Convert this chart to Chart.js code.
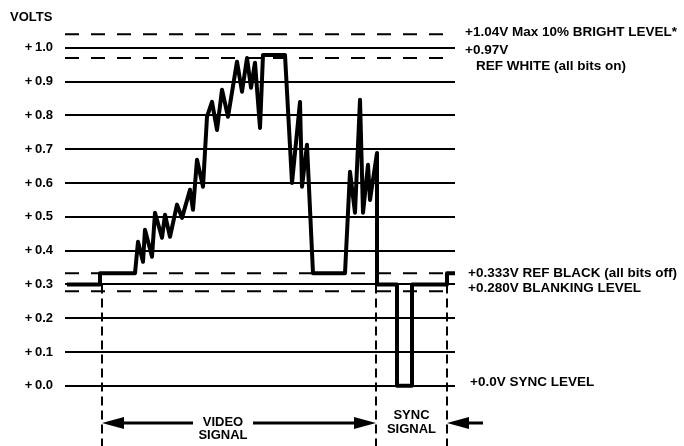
<!DOCTYPE html>
<html>
<head>
<meta charset="utf-8">
<script src="https://cdn.jsdelivr.net/npm/chart.js@4.4.1/dist/chart.umd.min.js"></script>
<style>
  html, body { margin: 0; padding: 0; background: #fff; }
  #wrap { width: 684px; height: 446px; }
</style>
</head>
<body>
<div id="wrap"><canvas id="c" width="684" height="446"></canvas></div>
<script>
// Composite video line: time (arbitrary µs scale) and voltage.
const timeUs = [
  0.2, 3.5, 3.5, 7.0, 7.3, 7.8, 8.0, 8.7, 9.0, 9.7, 10.0, 10.5, 11.2, 11.7,
  12.5, 12.8, 13.2, 13.8, 14.2, 14.7, 15.2, 15.7, 16.3, 17.2, 17.7, 18.2,
  18.6, 19.0, 19.5, 19.8, 22.0, 22.7, 23.5, 23.7, 24.2, 24.8, 28.0, 28.5,
  29.0, 29.5, 29.8, 30.3, 30.5, 31.2, 31.2, 33.2, 33.2, 34.7, 34.7, 38.2,
  38.2, 39.0
];
const volts = [
  0.30, 0.30, 0.333, 0.333, 0.426, 0.367, 0.462, 0.382, 0.512, 0.438, 0.506, 0.441, 0.536, 0.497,
  0.580, 0.521, 0.669, 0.589, 0.796, 0.840, 0.757, 0.876, 0.796, 0.959, 0.870, 0.970,
  0.882, 0.956, 0.763, 0.979, 0.979, 0.600, 0.840, 0.589, 0.713, 0.333, 0.333, 0.633,
  0.512, 0.846, 0.512, 0.654, 0.550, 0.689, 0.300, 0.300, 0.000, 0.000, 0.300, 0.300,
  0.333, 0.333
];

// Reference levels (dashed)
const levelValues = [1.04, 0.97, 0.333, 0.280];
const levelText = [
  ['+1.04V Max 10% BRIGHT LEVEL*'],
  ['+0.97V', 'REF WHITE (all bits on)'],
  ['+0.333V REF BLACK (all bits off)'],
  ['+0.280V BLANKING LEVEL']
];
const syncLevel = 0.0;
const syncText = '+0.0V SYNC LEVEL';

// Interval boundaries (video start, video end / sync start, sync end)
const boundaryTimes = [3.7, 31.1, 38.2];

// Y axis ticks
const yTicks = [0.0, 0.1, 0.2, 0.3, 0.4, 0.5, 0.6, 0.7, 0.8, 0.9, 1.0];

const X_MIN = 0, X_MAX = 39, Y_MIN = -0.178, Y_MAX = 1.1;
const FONT = '"Liberation Sans", Arial, Helvetica, sans-serif';

const datasets = [];
datasets.push({
  label: 'signal',
  data: timeUs.map((t, i) => ({ x: t, y: volts[i] })),
  borderColor: '#000', borderWidth: 4, pointRadius: 0,
  showLine: true, tension: 0, borderJoinStyle: 'round', borderCapStyle: 'butt',
  order: 0
});
levelValues.forEach(v => {
  datasets.push({
    label: 'level ' + v,
    data: [{ x: X_MIN, y: v }, { x: X_MAX, y: v }],
    borderColor: '#000', borderWidth: 2, borderDash: [14, 12], pointRadius: 0,
    showLine: true, order: 2
  });
});
boundaryTimes.forEach(t => {
  datasets.push({
    label: 'boundary ' + t,
    data: [{ x: t, y: 0.30 }, { x: t, y: Y_MIN }],
    borderColor: '#000', borderWidth: 2, borderDash: [9, 5], pointRadius: 0,
    showLine: true, order: 2
  });
});

function arrowHead(ctx, x, y, dir) {
  ctx.beginPath();
  ctx.moveTo(x, y);
  ctx.lineTo(x - dir * 22, y - 6);
  ctx.lineTo(x - dir * 22, y + 6);
  ctx.closePath();
  ctx.fill();
}

const annotations = {
  id: 'annotations',
  afterDraw(chart) {
    const ctx = chart.ctx;
    const xs = chart.scales.x, ys = chart.scales.y;
    const right = chart.chartArea.right;
    ctx.save();
    ctx.fillStyle = '#000';
    ctx.strokeStyle = '#000';
    ctx.textBaseline = 'middle';

    // axis title
    ctx.font = 'bold 13px ' + FONT;
    ctx.textAlign = 'left';
    ctx.fillText('VOLTS', 10, 17);

    // level labels on the right
    ctx.font = 'bold 13.5px ' + FONT;
    const offs = [[-2], [-8, 8], [0], [-3]];
    const indent = [[0], [0, 11], [3], [3]];
    levelText.forEach((lines, i) => {
      const py = ys.getPixelForValue(levelValues[i]);
      lines.forEach((s, j) => ctx.fillText(s, right + 10 + indent[i][j], py + offs[i][j]));
    });
    ctx.fillText(syncText, right + 15, ys.getPixelForValue(syncLevel) - 4);

    // interval arrows
    const ay = ys.getPixelForValue(-0.11);
    const xa = xs.getPixelForValue(boundaryTimes[0]);
    const xb = xs.getPixelForValue(boundaryTimes[1]);
    const xc = xs.getPixelForValue(boundaryTimes[2]);
    const xv = xs.getPixelForValue(15.8);
    ctx.lineWidth = 3;
    ctx.beginPath();
    ctx.moveTo(xa + 10, ay); ctx.lineTo(xv - 30, ay);
    ctx.moveTo(xv + 30, ay); ctx.lineTo(xb - 10, ay);
    ctx.moveTo(xc + 36, ay); ctx.lineTo(xc + 10, ay);
    ctx.stroke();
    arrowHead(ctx, xa, ay, -1);
    arrowHead(ctx, xb, ay, 1);
    arrowHead(ctx, xc, ay, -1);

    ctx.font = 'bold 13px ' + FONT;
    ctx.textAlign = 'center';
    ctx.fillText('VIDEO', xv, ay - 1);
    ctx.fillText('SIGNAL', xv, ay + 12);
    const xs2 = (xb + xc) / 2;
    ctx.fillText('SYNC', xs2, ay - 8);
    ctx.fillText('SIGNAL', xs2, ay + 6);
    ctx.restore();
  }
};

new Chart(document.getElementById('c'), {
  type: 'scatter',
  data: { datasets },
  options: {
    responsive: false,
    animation: false,
    layout: { padding: { top: 14, right: 229, bottom: 0, left: 0 } },
    plugins: { legend: { display: false }, tooltip: { enabled: false } },
    scales: {
      x: { type: 'linear', min: X_MIN, max: X_MAX, display: false },
      y: {
        type: 'linear', min: Y_MIN, max: Y_MAX,
        afterBuildTicks: s => { s.ticks = yTicks.map(v => ({ value: v })); },
        afterFit: s => { s.width = 65; s.paddingTop = 0; s.paddingBottom = 0; },
        grid: { color: '#000', lineWidth: 2, drawTicks: false },
        border: { display: false },
        ticks: {
          padding: 12, color: '#000', autoSkip: false,
          font: { family: FONT, size: 13, weight: 'bold' },
          callback: v => '+\u2009' + Number(v).toFixed(1)
        }
      }
    }
  },
  plugins: [annotations]
});
</script>
</body>
</html>
